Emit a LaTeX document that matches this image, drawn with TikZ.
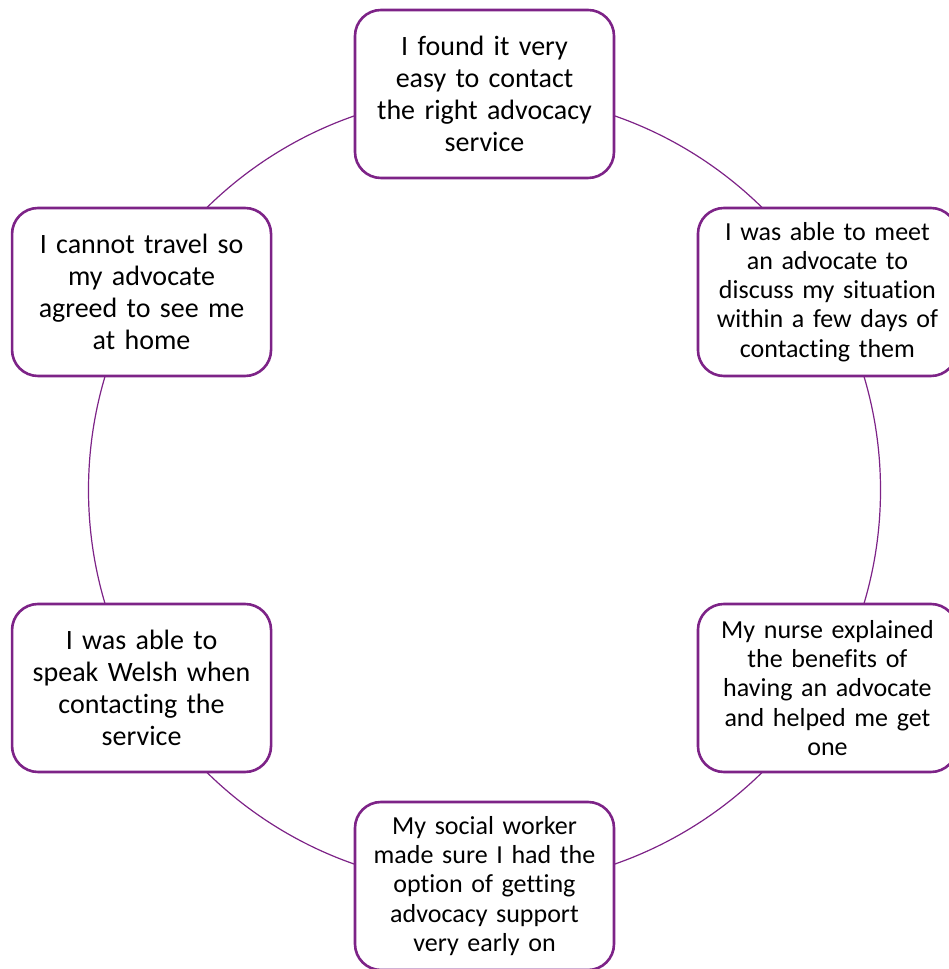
\documentclass[tikz,border=0pt]{standalone}
\usepackage{fontspec}
\setmainfont{Carlito}[Ligatures={NoCommon}]
\definecolor{plum}{RGB}{125,35,135}
\tikzset{
  card/.style={draw=plum, line width=2.6pt, fill=white, rounded corners=26pt,
    minimum width=259pt, minimum height=168pt, align=center, text width=250pt,
    font=\fontsize{28}{32}\selectfont, inner sep=0pt},
  cardsmall/.style={card, font=\fontsize{26}{29.2}\selectfont},
  ring/.style={draw=plum, line width=1.2pt}
}
\begin{document}
\begin{tikzpicture}[x=1pt,y=1pt]
\useasboundingbox (0,0) rectangle (949,969);
\begin{scope}
\clip (0,0) rectangle (949,969);
\coordinate (c) at (484.5,479);
\draw[ring] (c) circle (396);
\node[card] (n1) at ([shift={(90:396)}]c) {I found it very\\easy to contact\\the right advocacy\\service};
\node[cardsmall] (n2) at ([shift={(30:396)}]c) {I was able to meet\\an advocate to\\discuss my situation\\within a few days of\\contacting them};
\node[cardsmall] (n3) at ([shift={(-30:396)}]c) {My nurse explained\\the benefits of\\having an advocate\\and helped me get\\one};
\node[cardsmall] (n4) at ([shift={(-90:396)}]c) {My social worker\\made sure I had the\\option of getting\\advocacy support\\very early on};
\node[card] (n5) at ([shift={(-150:396)}]c) {I was able to\\speak Welsh when\\contacting the\\service};
\node[card] (n6) at ([shift={(150:396)}]c) {I cannot travel so\\my advocate\\agreed to see me\\at home};
\end{scope}
\end{tikzpicture}
\end{document}
